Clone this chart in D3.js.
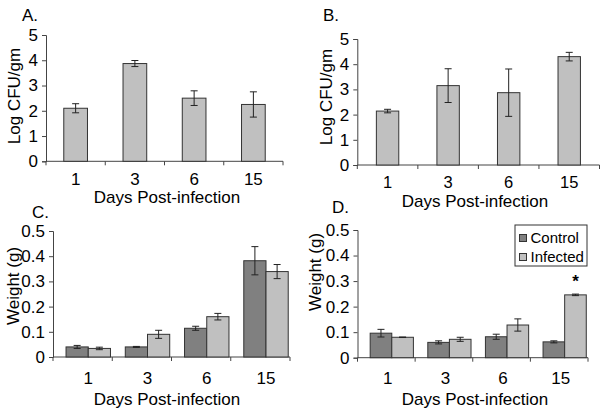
<!DOCTYPE html>
<html><head><meta charset="utf-8">
<script src="https://cdn.jsdelivr.net/npm/d3@7"></script>
<style>body{margin:0;background:#fff}svg{display:block}text{font-family:"Liberation Sans",Arial,sans-serif;fill:#000}</style>
</head><body>
<svg id="chart" width="600" height="414"></svg>
<script>
const days = ["1","3","6","15"];
const cfuA = [2.1, 3.87, 2.5, 2.25];
const cfuAErr = [0.18, 0.12, 0.29, 0.5];
const cfuB = [2.14, 3.15, 2.87, 4.3];
const cfuBErr = [0.07, 0.67, 0.94, 0.17];
const wtCControl = [0.04, 0.04, 0.114, 0.382];
const wtCControlErr = [0.006, 0.002, 0.008, 0.056];
const wtCInfected = [0.034, 0.09, 0.16, 0.339];
const wtCInfectedErr = [0.005, 0.016, 0.013, 0.028];
const wtDControl = [0.096, 0.06, 0.082, 0.062];
const wtDControlErr = [0.015, 0.006, 0.01, 0.004];
const wtDInfected = [0.08, 0.072, 0.128, 0.246];
const wtDInfectedErr = [0.001, 0.008, 0.024, 0.003];
const cfuTicks = [0,1,2,3,4,5];
const cfuTickLabels = ["0","1","2","3","4","5"];
const wtTicks = [0,0.1,0.2,0.3,0.4,0.5];
const wtTickLabels = ["0","0.1","0.2","0.3","0.4","0.5"];
const seriesNames = ["Control","Infected"];
const colors = {Control:"#808080", Infected:"#c0c0c0"};

const svg = d3.select("#chart");
const FS = 17;

function panel(o){
  const g = svg.append("g");
  const x = d3.scaleBand().domain(days).range(o.xr).padding(0);
  const y = d3.scaleLinear().domain([0, o.ymax]).range(o.yr);
  const bw = x.bandwidth();
  const ya = d3.axisLeft(y).tickValues(o.ticks).tickFormat((d,i)=>o.tickLabels[i]).tickSize(4).tickPadding(4);
  const yg = g.append("g").attr("transform",`translate(${o.xr[0]},0)`).call(ya);
  yg.select(".domain").attr("stroke","#444");
  yg.selectAll(".tick line").attr("stroke","#444");
  yg.selectAll(".tick text").style("font-size",FS+"px").style("font-family","Liberation Sans, Arial, sans-serif").attr("fill","#000");
  g.append("line").attr("x1",o.xr[0]).attr("x2",o.xr[1]).attr("y1",y(0)).attr("y2",y(0)).attr("stroke","#444");
  const bounds = days.map(d=>x(d)).concat([x(days[days.length-1])+bw]);
  g.selectAll(".xt").data(bounds).enter().append("line")
    .attr("x1",d=>d).attr("x2",d=>d).attr("y1",y(0)).attr("y2",y(0)+4).attr("stroke","#444");
  let centers;
  if(o.series.length===1){
    const s = o.series[0];
    const w = bw*o.barFrac;
    centers = days.map(d=>x(d)+bw/2);
    days.forEach((d,i)=>{
      const cx = x(d)+bw/2;
      g.append("rect").attr("x",cx-w/2).attr("y",y(s.vals[i])).attr("width",w).attr("height",y(0)-y(s.vals[i]))
        .attr("fill",s.color).attr("stroke","#333").attr("stroke-width",1);
      errBar(g, cx, y(s.vals[i]+s.err[i]), y(s.vals[i]-s.err[i]));
    });
  } else {
    const w = bw*o.barFrac;
    const off = bw*o.offFrac;
    centers = days.map(d=>x(d)+off+w);
    o.series.forEach((s,k)=>{
      days.forEach((d,i)=>{
        const bx = x(d)+off+k*w;
        g.append("rect").attr("x",bx).attr("y",y(s.vals[i])).attr("width",w).attr("height",y(0)-y(s.vals[i]))
          .attr("fill",s.color).attr("stroke","#333").attr("stroke-width",1);
        errBar(g, bx+w/2, y(s.vals[i]+s.err[i]), y(s.vals[i]-s.err[i]));
      });
    });
  }
  g.selectAll(".xl").data(days).enter().append("text")
    .attr("x",(d,i)=>centers[i]+(o.labelShift||0)).attr("y",o.xlabY).attr("text-anchor","middle")
    .style("font-size",(o.xlabFS||FS)+"px").text(d=>d);
  g.append("text").attr("x",o.titleX).attr("y",o.titleY).attr("text-anchor","middle").style("font-size",FS+"px").text("Days Post-infection");
  g.append("text").attr("transform",`translate(${o.ytX},${o.ytY}) rotate(-90)`).attr("text-anchor","middle")
    .attr("dominant-baseline","central").style("font-size",FS+"px").text(o.ytitle);
  g.append("text").attr("x",o.lab[0]).attr("y",o.lab[1]).style("font-size","17px").text(o.label);
  return {g,x,y,bw};
}
function errBar(g, cx, y1, y2){
  g.append("line").attr("x1",cx).attr("x2",cx).attr("y1",y1).attr("y2",y2).attr("stroke","#222");
  g.append("line").attr("x1",cx-3.5).attr("x2",cx+3.5).attr("y1",y1).attr("y2",y1).attr("stroke","#222");
  g.append("line").attr("x1",cx-3.5).attr("x2",cx+3.5).attr("y1",y2).attr("y2",y2).attr("stroke","#222");
}

panel({xr:[46,283], yr:[161.3,35], ymax:5, ticks:cfuTicks, tickLabels:cfuTickLabels, barFrac:0.4,
  series:[{vals:cfuA, err:cfuAErr, color:"#c0c0c0"}], xlabY:184.5, titleX:167, titleY:203, ytX:14, ytY:96,
  ytitle:"Log CFU/gm", label:"A.", lab:[22,21]});
panel({xr:[357.3,599.5], yr:[165,39], ymax:5, ticks:cfuTicks, tickLabels:cfuTickLabels, barFrac:0.37,
  series:[{vals:cfuB, err:cfuBErr, color:"#c0c0c0"}], xlabY:187.5, xlabFS:16.5, titleX:475, titleY:206.5, ytX:326, ytY:97,
  ytitle:"Log CFU/gm", label:"B.", lab:[323,21]});
panel({xr:[53,290], yr:[357,231], ymax:0.5, ticks:wtTicks, tickLabels:wtTickLabels, barFrac:0.375, offFrac:0.22,
  series:[{vals:wtCControl, err:wtCControlErr, color:colors.Control},{vals:wtCInfected, err:wtCInfectedErr, color:colors.Infected}],
  xlabY:383.5, titleX:167, titleY:405, ytX:13, ytY:286, ytitle:"Weight (g)", label:"C.", lab:[32,218]});
const pD = panel({xr:[357.5,588], yr:[357.7,230], ymax:0.5, ticks:wtTicks, tickLabels:wtTickLabels, barFrac:0.375, offFrac:0.22,
  series:[{vals:wtDControl, err:wtDControlErr, color:colors.Control},{vals:wtDInfected, err:wtDInfectedErr, color:colors.Infected}],
  labelShift:-4, xlabY:383.5, titleX:475, titleY:405, ytX:315, ytY:272, ytitle:"Weight (g)", label:"D.", lab:[332,213]});

{
  const i = 3, w = pD.bw*0.375, off = pD.bw*0.22;
  const cx = pD.x(days[i]) + off + w*1.5;
  pD.g.append("text").attr("x",cx).attr("y",pD.y(wtDInfected[i]+wtDInfectedErr[i])-7)
    .attr("text-anchor","middle").style("font-size","17px").style("font-weight","bold").text("*");
}
{
  const lg = svg.append("g");
  lg.append("rect").attr("x",515).attr("y",225).attr("width",72).attr("height",41).attr("fill","#fff").attr("stroke","#333");
  seriesNames.forEach((n,k)=>{
    lg.append("rect").attr("x",519.5).attr("y",234.5+k*19).attr("width",7).attr("height",7).attr("fill",colors[n]).attr("stroke","#333");
    lg.append("text").attr("x",530.5).attr("y",243+k*19).style("font-size","15px").text(n);
  });
}
</script>
</body></html>
